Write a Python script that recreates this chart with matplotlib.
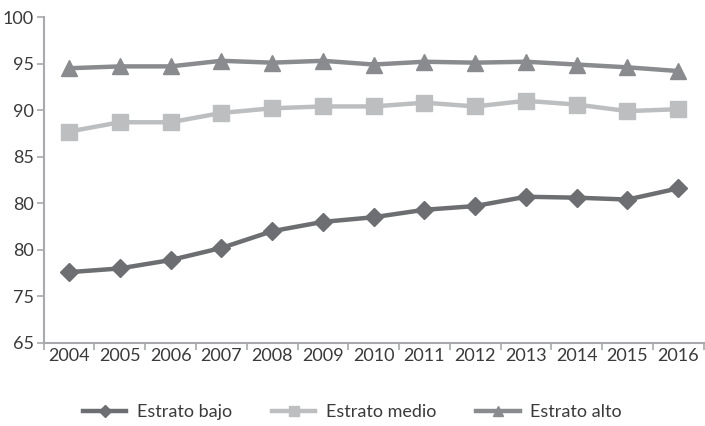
import matplotlib.pyplot as plt
from matplotlib.ticker import FixedLocator

years = ['2004', '2005', '2006', '2007', '2008', '2009', '2010',
         '2011', '2012', '2013', '2014', '2015', '2016']
estrato_bajo = [72.6, 73.0, 73.9, 75.2, 77.0, 78.0, 78.5,
                79.3, 79.7, 80.7, 80.6, 80.4, 81.6]
estrato_medio = [87.7, 88.7, 88.7, 89.7, 90.2, 90.4, 90.4,
                 90.8, 90.4, 91.0, 90.6, 89.9, 90.1]
estrato_alto = [94.5, 94.7, 94.7, 95.3, 95.1, 95.3, 94.9,
                95.2, 95.1, 95.2, 94.9, 94.6, 94.2]
y_ticks = [65, 70, 75, 80, 85, 90, 95, 100]
y_labels = ['65', '75', '80', '80', '85', '90', '95', '100']

plt.rcParams['font.family'] = ['Lato', 'DejaVu Sans']

fig = plt.figure(figsize=(7.05, 4.26), dpi=100)
ax = fig.add_axes([0.062, 0.195, 0.936, 0.765])

x = range(len(years))
ax.plot(x, estrato_bajo, color='#6d6e71', lw=3.2, marker='D', ms=9,
        label='Estrato bajo')
ax.plot(x, estrato_medio, color='#bcbec0', lw=3.2, marker='s', ms=11,
        label='Estrato medio')
ax.plot(x, estrato_alto, color='#8a8b8e', lw=3.2, marker='^', ms=11,
        label='Estrato alto')

ax.set_xlim(-0.5, len(years) - 0.5)
ax.set_ylim(65, 100)
ax.set_yticks(y_ticks)
ax.set_yticklabels(y_labels)
ax.set_xticks(list(x))
ax.set_xticklabels(years)
ax.xaxis.set_minor_locator(FixedLocator([i - 0.5 for i in range(len(years) + 1)]))
ax.tick_params(axis='x', which='major', length=0, pad=4, labelsize=13,
               labelcolor='#3a3a3a')
ax.tick_params(axis='x', which='minor', length=5, color='#a7a9ac', width=1.2)
ax.tick_params(axis='y', length=5, color='#a7a9ac', width=1.2, pad=2,
               labelsize=13, labelcolor='#3a3a3a')

for side in ['top', 'right']:
    ax.spines[side].set_visible(False)
for side in ['left', 'bottom']:
    ax.spines[side].set_color('#a7a9ac')
    ax.spines[side].set_linewidth(1.5)

fig.legend(loc='center', bbox_to_anchor=(0.5, 0.032), ncol=3, frameon=False,
           fontsize=13, handlelength=2.4, columnspacing=2.2, handletextpad=0.6,
           markerscale=0.7, labelcolor='#3a3a3a')

fig.savefig('out.png', dpi=100)
